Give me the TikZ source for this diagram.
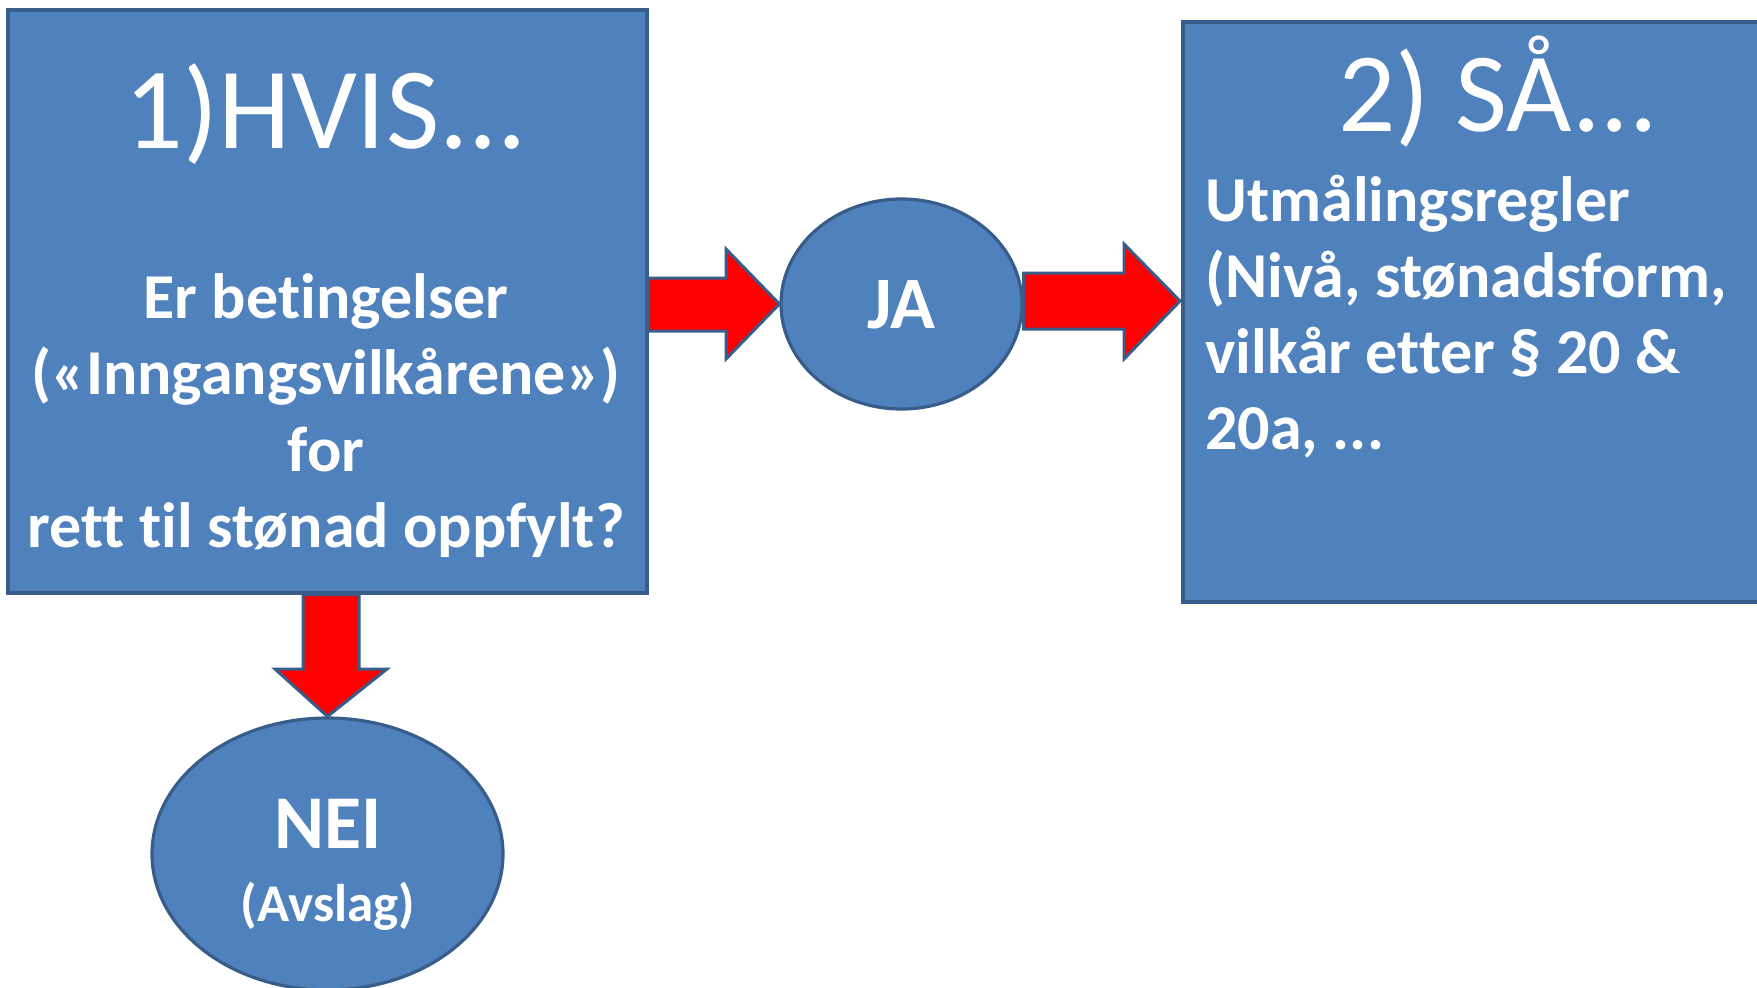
\documentclass[tikz,border=0pt]{standalone}
\usepackage{fontspec}
\setmainfont{Carlito}[Ligatures={NoCommon}]
\usetikzlibrary{shapes.geometric,calc}
\definecolor{boxfill}{HTML}{4F81BD}
\definecolor{boxline}{HTML}{385D8A}
\begin{document}
\begin{tikzpicture}[x=0.5pt,y=-0.5pt,
  blk/.style={draw=boxline, fill=boxfill, line width=1.6pt, inner sep=0pt},
  redarrow/.style={draw=boxline, fill=red, line width=1.5pt, line join=miter},
  txt/.style={text=white, anchor=base, inner sep=0pt},
  body/.style={txt, font=\fontsize{32}{38}\selectfont\bfseries},
  rbody/.style={body, anchor=base west}]
\useasboundingbox (0,0) rectangle (1757,987);
% boxes
\node (L) [blk, rectangle, minimum width=319.5pt, minimum height=291.5pt] at (327.5,301.5) {};
\node (R) [blk, rectangle, minimum width=289.5pt, minimum height=290pt] at (1472.5,312) {};
\node (JA) [blk, ellipse, minimum width=120.5pt, minimum height=105pt] at (901.5,304) {};
\node (NEI) [blk, ellipse, minimum width=175.5pt, minimum height=136pt] at (327.5,854) {};
% block arrows
\draw[redarrow] (L.east |- 0,278) -- (726,278) -- (726,249) -- (JA.west) -- (726,359) -- (726,331) -- (L.east |- 0,331) -- cycle;
\draw[redarrow] (JA.east |- 0,273) -- (1124,273) -- (1124,244) -- (1180,301) -- (1124,359) -- (1124,329) -- (JA.east |- 0,329) -- cycle;
\draw[redarrow] (303,0 |- L.south) -- (303,669) -- (275,669) -- (NEI.north) -- (387,669) -- (359,669) -- (359,0 |- L.south) -- cycle;
% texts left
\node (t1) [txt, font=\fontsize{58}{64}\selectfont] at (326,148) {1)HVIS...};
\node (t2) [body] at (326,318) {Er betingelser};
\node (t3) [body] at (326,394) {(«Inngangsvilkårene»)};
\node (t4) [body] at (326,471) {for};
\node (t5) [body] at (326,547) {rett til stønad oppfylt?};
% texts right
\node (r1) [txt, font=\fontsize{56.5}{62}\selectfont] at (1498,131) {2) SÅ...};
\node (r2) [rbody] at (1205,221) {Utmålingsregler};
\node (r3) [rbody] at (1205,297) {(Nivå, stønadsform,};
\node (r4) [rbody] at (1205,373) {vilkår etter § 20 \&};
\node (r5) [rbody] at (1205,449) {20a, ...};
% ellipse texts
\node (ja) [txt, font=\fontsize{37}{40}\selectfont\bfseries] at (901,328) {JA};
\node (nei) [txt, font=\fontsize{38}{42}\selectfont\bfseries] at (328,848) {NEI};
\node (avs) [txt, font=\fontsize{26.5}{30}\selectfont\bfseries] at (328,921) {(Avslag)};
\end{tikzpicture}
\end{document}
